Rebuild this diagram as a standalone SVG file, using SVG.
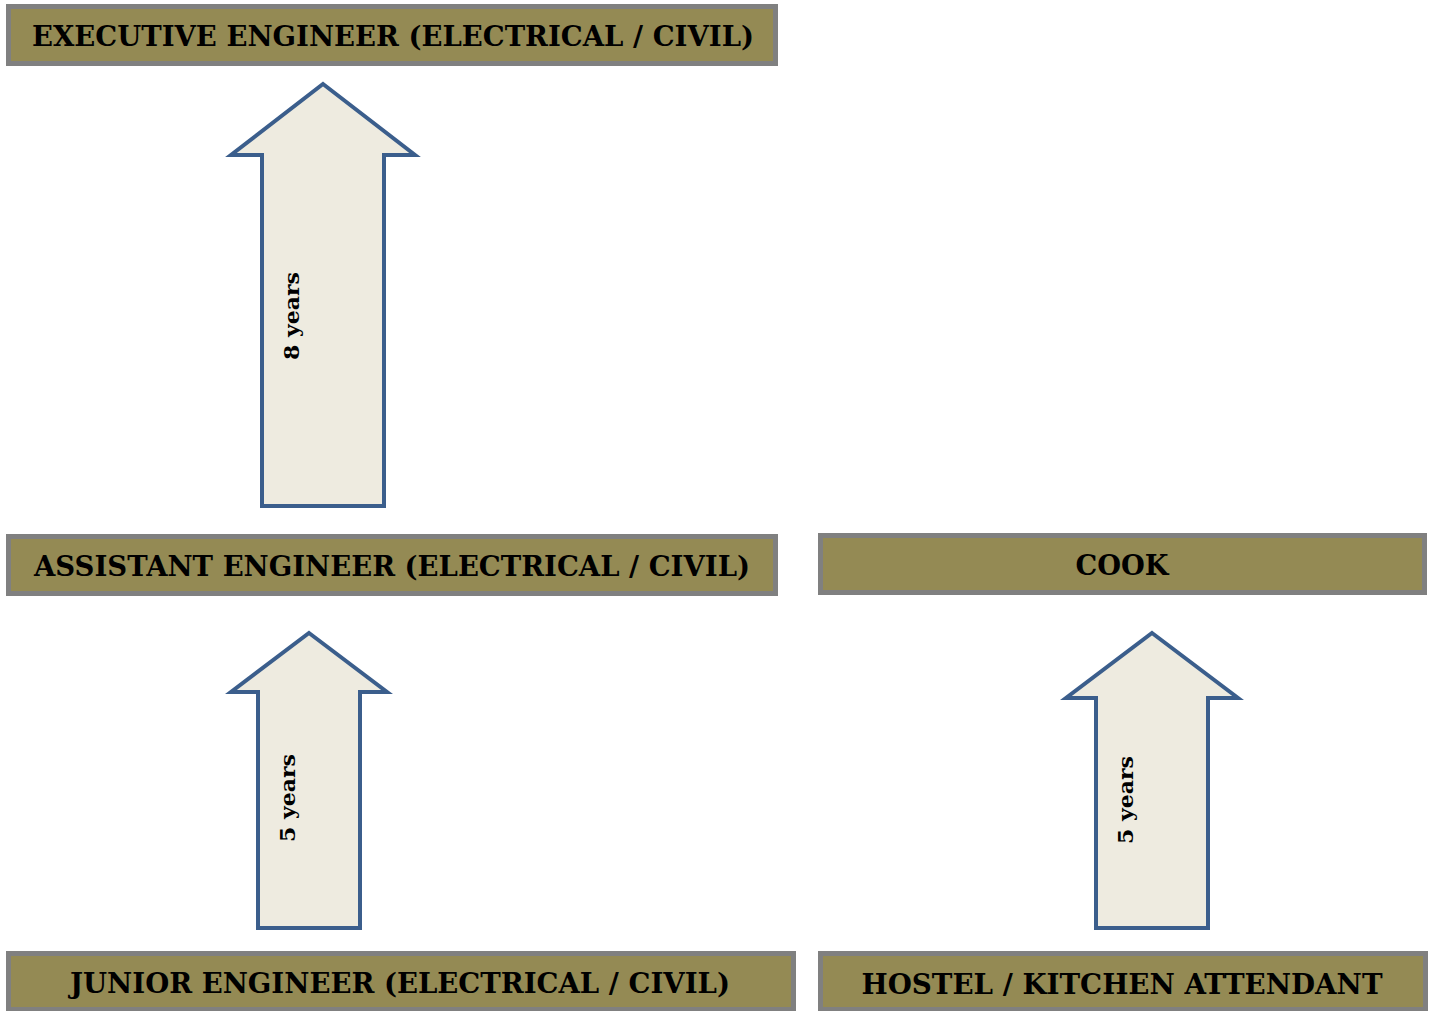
<svg xmlns="http://www.w3.org/2000/svg" width="1432" height="1011" viewBox="0 0 1432 1011">
<style>
.box{fill:#948A54;stroke:#808080;stroke-width:5}
.lbl{font-family:"DejaVu Serif","Liberation Serif",serif;font-weight:bold;font-size:27px;fill:#000;text-anchor:middle}
.arr{fill:#EEEBE0;stroke:#3B5E8C;stroke-width:4;stroke-linejoin:miter}
.yr{font-family:"DejaVu Serif","Liberation Serif",serif;font-weight:bold;font-size:20px;fill:#000;text-anchor:middle}
</style>
<g id="connectors">
<g id="arrow1"><polygon class="arr" points="323,84 415,155 384,155 384,506 262,506 262,155 231,155"/><text class="yr" transform="translate(299,316) rotate(-90)" textLength="88" lengthAdjust="spacingAndGlyphs">8 years</text></g>
<g id="arrow2"><polygon class="arr" points="309,633 387,692 360,692 360,928 258,928 258,692 231,692"/><text class="yr" transform="translate(295,798) rotate(-90)" textLength="88" lengthAdjust="spacingAndGlyphs">5 years</text></g>
<g id="arrow3"><polygon class="arr" points="1152,633 1238,698 1208,698 1208,928 1096,928 1096,698 1066,698"/><text class="yr" transform="translate(1133,800) rotate(-90)" textLength="88" lengthAdjust="spacingAndGlyphs">5 years</text></g>
</g>
<g id="exec"><rect class="box" x="8.5" y="6.5" width="767" height="57"/><text class="lbl" x="393" y="46" textLength="722" lengthAdjust="spacingAndGlyphs">EXECUTIVE ENGINEER (ELECTRICAL / CIVIL)</text></g>
<g id="assistant"><rect class="box" x="8.5" y="536.5" width="767" height="57"/><text class="lbl" x="392" y="576" textLength="716" lengthAdjust="spacingAndGlyphs">ASSISTANT ENGINEER (ELECTRICAL / CIVIL)</text></g>
<g id="cook"><rect class="box" x="820.5" y="535.5" width="604" height="57"/><text class="lbl" x="1122" y="575" textLength="93" lengthAdjust="spacingAndGlyphs">COOK</text></g>
<g id="junior"><rect class="box" x="8.5" y="953.5" width="785" height="56"/><text class="lbl" x="400" y="993" textLength="660" lengthAdjust="spacingAndGlyphs">JUNIOR ENGINEER (ELECTRICAL / CIVIL)</text></g>
<g id="hostel"><rect class="box" x="820.5" y="953.5" width="605" height="56"/><text class="lbl" x="1122" y="994" textLength="521" lengthAdjust="spacingAndGlyphs">HOSTEL / KITCHEN ATTENDANT</text></g>
</svg>
